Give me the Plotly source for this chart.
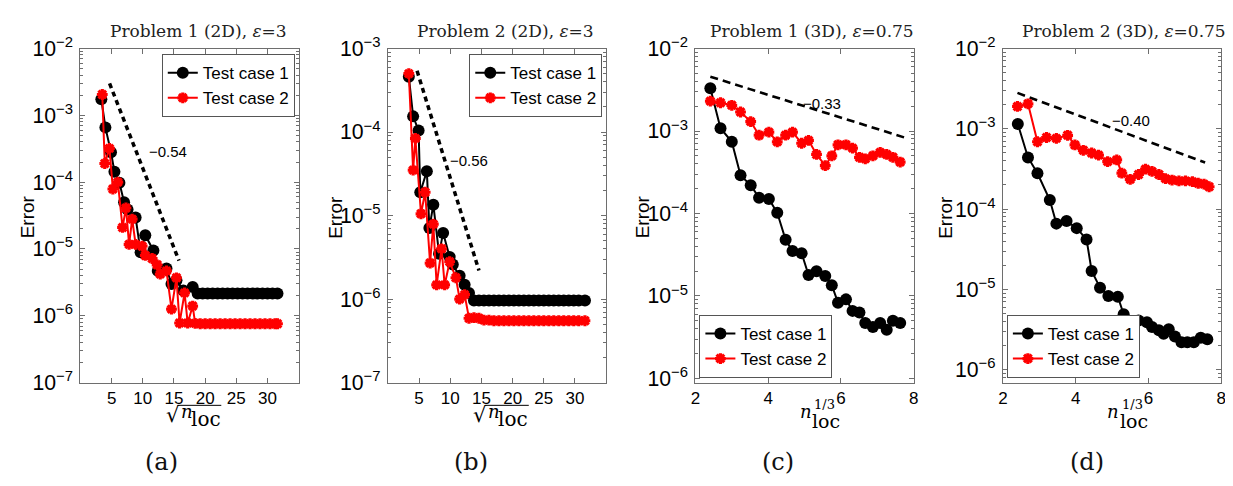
import plotly.graph_objects as go

W, H = 1233, 486

# ---------------- data ----------------
# Panel (a): Problem 1 (2D), eps=3
a_x1 = [3.35, 4.0, 4.9, 5.45, 6.25, 7.0, 7.55, 8.85, 9.65, 10.4, 11.7, 12.4, 13.8, 14.6, 15.4, 16.5, 18.0,
        18.8, 19.6, 20.4, 21.2, 22.0, 22.8, 23.6, 24.4, 25.2, 26.0, 26.8, 27.6, 28.4, 29.2, 30.0, 30.8, 31.6]
a_y1 = [1.74e-3, 6.6e-4, 2.8e-4, 1.43e-4, 9.8e-5, 5.0e-5, 3.9e-5, 2.95e-5, 8.9e-6, 1.6e-5, 9.5e-6, 4.7e-6,
        5.1e-6, 3.0e-6, 3.4e-6, 2.4e-6, 2.7e-6,
        2.15e-6, 2.15e-6, 2.15e-6, 2.15e-6, 2.15e-6, 2.15e-6, 2.15e-6, 2.15e-6, 2.15e-6, 2.15e-6, 2.15e-6,
        2.15e-6, 2.15e-6, 2.15e-6, 2.15e-6, 2.15e-6, 2.15e-6]
a_x2 = [3.5, 3.9, 4.65, 5.2, 6.0, 6.75, 7.3, 7.8, 8.3, 8.85, 9.9, 10.4, 11.5, 12.3, 12.8, 13.8, 14.6, 15.4,
        15.9, 16.7, 17.2, 18.0, 18.4, 19.2, 20.0, 20.8, 21.6, 22.4, 23.2, 24.0, 24.8, 25.6, 26.4, 27.2, 28.0,
        28.8, 29.6, 30.4, 31.2, 31.6]
a_y2 = [2.05e-3, 1.9e-4, 3.2e-4, 7.9e-5, 1.0e-4, 2.1e-5, 4.1e-5, 1.17e-5, 2.8e-5, 1.17e-5, 1.1e-5, 8.0e-6,
        7.2e-6, 5.8e-6, 4.2e-6, 4.7e-6, 1.26e-6, 3.7e-6, 7.8e-7, 2.2e-6, 7.8e-7, 1.4e-6, 7.7e-7,
        7.6e-7, 7.6e-7, 7.6e-7, 7.6e-7, 7.6e-7, 7.6e-7, 7.6e-7, 7.6e-7, 7.6e-7, 7.6e-7, 7.6e-7, 7.6e-7,
        7.6e-7, 7.6e-7, 7.6e-7, 7.6e-7, 7.6e-7]
a_slope_x = [4.67, 15.8]
a_slope_y = [3.0e-3, 6.7e-6]

# Panel (b): Problem 2 (2D), eps=3
b_x1 = [3.35, 4.04, 4.92, 5.19, 6.24, 6.65, 7.28, 8.2, 8.85, 9.9, 10.4, 11.5, 12.3, 13.0, 13.8,
        14.6, 15.4, 16.2, 17.0, 17.8, 18.6, 19.4, 20.2, 21.0, 21.8, 22.6, 23.4, 24.2, 25.0, 25.8, 26.6,
        27.4, 28.2, 29.0, 29.8, 30.6, 31.6]
b_y1 = [4.6e-4, 1.54e-4, 1.04e-4, 1.9e-5, 3.4e-5, 7.1e-6, 1.35e-5, 3.5e-6, 6.2e-6, 3.2e-6, 2.6e-6,
        1.9e-6, 1.48e-6, 1.18e-6, 9.6e-7,
        9.6e-7, 9.6e-7, 9.6e-7, 9.6e-7, 9.6e-7, 9.6e-7, 9.6e-7, 9.6e-7, 9.6e-7, 9.6e-7, 9.6e-7, 9.6e-7,
        9.6e-7, 9.6e-7, 9.6e-7, 9.6e-7, 9.6e-7, 9.6e-7, 9.6e-7, 9.6e-7, 9.6e-7, 9.6e-7]
b_x2 = [3.35, 4.04, 4.4, 5.3, 5.97, 6.76, 7.28, 7.81, 8.6, 9.1, 9.9, 10.9, 11.5, 12.3, 13.0, 13.8, 14.6,
        15.4, 16.2, 17.0, 17.8, 18.6, 19.4, 20.2, 21.0, 21.8, 22.6, 23.4, 24.2, 25.0, 25.8, 26.6, 27.4,
        28.2, 29.0, 29.8, 30.6, 31.6]
b_y2 = [5.0e-4, 3.5e-5, 8.4e-5, 1.05e-5, 1.9e-5, 2.7e-6, 7.9e-6, 1.48e-6, 4.0e-6, 1.48e-6, 2.8e-6, 1.8e-6,
        1.0e-6, 1.13e-6, 5.9e-7, 6.0e-7, 5.9e-7,
        5.6e-7, 5.6e-7, 5.5e-7, 5.5e-7, 5.5e-7, 5.5e-7, 5.5e-7, 5.5e-7, 5.5e-7, 5.5e-7, 5.5e-7, 5.5e-7,
        5.5e-7, 5.5e-7, 5.5e-7, 5.5e-7, 5.5e-7, 5.5e-7, 5.5e-7, 5.5e-7, 5.5e-7]
b_slope_x = [4.67, 14.6]
b_slope_y = [5.4e-4, 2.2e-6]

# Panel (c): Problem 1 (3D), eps=0.75
c_x = [2.41, 2.69, 3.0, 3.24, 3.52, 3.75, 4.02, 4.25, 4.48, 4.67, 4.92, 5.11, 5.33, 5.57, 5.75, 5.92,
       6.14, 6.32, 6.51, 6.67, 6.88, 7.08, 7.26, 7.43, 7.63]
c_y1 = [3.3e-3, 1.08e-3, 7.4e-4, 2.9e-4, 2.2e-4, 1.55e-4, 1.5e-4, 1.02e-4, 4.8e-5, 3.5e-5, 3.3e-5, 1.8e-5,
        2.0e-5, 1.75e-5, 1.35e-5, 8.3e-6, 9.1e-6, 6.6e-6, 6.3e-6, 4.7e-6, 4.2e-6, 4.7e-6, 3.9e-6, 5.0e-6,
        4.7e-6]
c_y2 = [2.3e-3, 2.2e-3, 2.05e-3, 1.7e-3, 1.3e-3, 8.9e-4, 9.7e-4, 7.4e-4, 8.9e-4, 9.7e-4, 7.1e-4, 7.7e-4,
        5.2e-4, 3.8e-4, 5.0e-4, 6.8e-4, 6.8e-4, 6.2e-4, 4.8e-4, 4.6e-4, 5.0e-4, 5.5e-4, 5.2e-4, 4.8e-4,
        4.2e-4]
c_slope_x = [2.41, 7.84]
c_slope_y = [4.55e-3, 8.1e-4]

# Panel (d): Problem 2 (3D), eps=0.75
d_x1 = [2.41, 2.69, 2.95, 3.29, 3.47, 3.75, 4.03, 4.30, 4.44, 4.67, 4.90, 5.16, 5.32, 5.50, 5.73, 5.96,
        6.10, 6.29, 6.42, 6.56, 6.73, 6.91, 7.07, 7.25, 7.44, 7.62]
d_y1 = [1.15e-3, 4.4e-4, 2.8e-4, 1.3e-4, 6.6e-5, 7.1e-5, 5.8e-5, 4.2e-5, 1.7e-5, 1.05e-5, 8.3e-6, 8.1e-6,
        4.9e-6, 3.9e-6, 4.1e-6, 3.9e-6, 3.4e-6, 3.1e-6, 2.8e-6, 3.2e-6, 2.6e-6, 2.2e-6, 2.2e-6, 2.2e-6,
        2.5e-6, 2.4e-6]
d_x2 = [2.40, 2.69, 2.95, 3.20, 3.47, 3.78, 3.98, 4.21, 4.44, 4.63, 4.88, 5.13, 5.27, 5.50, 5.73, 5.92,
        6.10, 6.29, 6.47, 6.65, 6.84, 7.02, 7.21, 7.37, 7.53, 7.67]
d_y2 = [1.9e-3, 2.05e-3, 6.9e-4, 7.8e-4, 7.6e-4, 8.3e-4, 6.3e-4, 5.4e-4, 5.0e-4, 4.7e-4, 3.9e-4, 4.1e-4,
        2.8e-4, 2.35e-4, 2.7e-4, 3.15e-4, 2.95e-4, 2.7e-4, 2.4e-4, 2.3e-4, 2.25e-4, 2.25e-4, 2.2e-4, 2.1e-4,
        2.05e-4, 1.9e-4]
d_slope_x = [2.40, 7.56]
d_slope_y = [2.8e-3, 3.8e-4]

titles = ["Problem 1 (2D), <i>ε</i>=3", "Problem 2 (2D), <i>ε</i>=3",
          "Problem 1 (3D), <i>ε</i>=0.75", "Problem 2 (3D), <i>ε</i>=0.75"]
slope_labels = ["−0.54", "−0.56", "−0.33", "−0.40"]
series_names = ["Test case 1", "Test case 2"]
panel_tags = ["(a)", "(b)", "(c)", "(d)"]

# ---------------- layout helpers ----------------
def px(x):
    return x / W

def py(y):
    return 1 - y / H

boxes = [(68, 288), (378, 598), (688, 908), (998, 1218)]
y_top, y_bot = 28, 381
yranges = [[-7, -2], [-7, -3], [-6.05, -2], [-6.16, -2]]
xranges = [[0, 35], [0, 35], [2, 8], [2, 8]]
xticks = [[5, 10, 15, 20, 25, 30], [5, 10, 15, 20, 25, 30], [2, 4, 6, 8], [2, 4, 6, 8]]

data = [
    (a_x1, a_y1, a_x2, a_y2, a_slope_x, a_slope_y),
    (b_x1, b_y1, b_x2, b_y2, b_slope_x, b_slope_y),
    (c_x, c_y1, c_x, c_y2, c_slope_x, c_slope_y),
    (d_x1, d_y1, d_x2, d_y2, d_slope_x, d_slope_y),
]

FONT = "Liberation Sans, Arial, sans-serif"
SERIF = "DejaVu Serif, serif"
AX = "#6e6e6e"

fig = go.Figure()
legend_names = ["legend", "legend2", "legend3", "legend4"]

for i, (x1, y1, x2, y2, sx, sy) in enumerate(data):
    sfx = "" if i == 0 else str(i + 1)
    xa, ya = "x" + sfx, "y" + sfx
    thick = i < 2
    fig.add_trace(go.Scatter(
        x=sx, y=sy, mode="lines", xaxis=xa, yaxis=ya, showlegend=False,
        line=dict(color="black", width=3.5 if thick else 2.6,
                  dash="5px,4px" if thick else "8px,5px")))
    fig.add_trace(go.Scatter(
        x=x1, y=y1, mode="lines+markers", name=series_names[0], xaxis=xa, yaxis=ya,
        legend=legend_names[i],
        line=dict(color="black", width=2),
        marker=dict(symbol="circle", size=12, color="black")))
    fig.add_trace(go.Scatter(
        x=x2, y=y2, mode="lines+markers", name=series_names[1], xaxis=xa, yaxis=ya,
        legend=legend_names[i],
        line=dict(color="#ff0000", width=2),
        marker=dict(symbol="asterisk-open", size=9, color="#ff0000",
                    line=dict(color="#ff0000", width=3.2))))

layout = dict(
    width=W, height=H, margin=dict(l=0, r=0, t=0, b=0),
    paper_bgcolor="white", plot_bgcolor="white",
    font=dict(family=FONT, size=17, color="black"),
)

for i in range(4):
    sfx = "" if i == 0 else str(i + 1)
    l, r = boxes[i]
    layout["xaxis" + sfx] = dict(
        domain=[px(l), px(r)], anchor="y" + sfx, range=xranges[i],
        tickvals=xticks[i], ticks="inside", ticklen=5, tickcolor=AX,
        showline=True, linecolor=AX, linewidth=1, mirror="allticks",
        showgrid=False, zeroline=False, tickfont=dict(family=FONT, size=17))
    layout["yaxis" + sfx] = dict(
        domain=[py(y_bot), py(y_top)], anchor="x" + sfx, type="log", range=yranges[i],
        dtick=1, exponentformat="power", showexponent="all",
        ticks="inside", ticklen=5, tickcolor=AX,
        minor=dict(ticks="inside", ticklen=3, tickcolor=AX, showgrid=False),
        showline=True, linecolor=AX, linewidth=1, mirror="allticks",
        showgrid=False, zeroline=False, tickfont=dict(family=FONT, size=17),
        ticklabelstandoff=3)

leg_common = dict(bgcolor="white", bordercolor="#555555", borderwidth=1,
                  font=dict(family=FONT, size=17), tracegroupgap=0,
                  itemwidth=30, traceorder="normal")
layout["legend"] = dict(x=px(150), y=py(34), xanchor="left", yanchor="top", **leg_common)
layout["legend2"] = dict(x=px(460), y=py(34), xanchor="left", yanchor="top", **leg_common)
layout["legend3"] = dict(x=px(692), y=py(376), xanchor="left", yanchor="bottom", **leg_common)
layout["legend4"] = dict(x=px(1002), y=py(376), xanchor="left", yanchor="bottom", **leg_common)

fig.update_layout(**layout)

ann = []
title_cx = [187, 497, 806, 1120]
for i in range(4):
    ann.append(dict(x=px(title_cx[i]), y=py(10), xref="paper", yref="paper", text=titles[i],
                    showarrow=False, font=dict(family=SERIF, size=17, color="#222"),
                    xanchor="center", yanchor="middle"))
err_x = [15.5, 325.5, 635.5, 940.5]
for i in range(4):
    ann.append(dict(x=px(err_x[i]), y=py(206), xref="paper", yref="paper", text="Error",
                    showarrow=False, textangle=-90, font=dict(family=FONT, size=19),
                    xanchor="center", yanchor="middle"))
slope_pos = [(156, 137), (460, 146), (816, 86), (1127, 104)]
for i in range(4):
    ann.append(dict(x=px(slope_pos[i][0]), y=py(slope_pos[i][1]), xref="paper", yref="paper",
                    text=slope_labels[i], showarrow=False, font=dict(family=FONT, size=15),
                    xanchor="center", yanchor="middle"))
tag_x = [150, 462, 771, 1083]
for i in range(4):
    ann.append(dict(x=px(tag_x[i]), y=py(465), xref="paper", yref="paper", text=panel_tags[i],
                    showarrow=False, font=dict(family=SERIF, size=24, color="#111"),
                    xanchor="center", yanchor="middle"))

# x-axis labels: sqrt(n_loc) for (a),(b)
shapes = []
for off in [0, 310]:
    ann.append(dict(x=px(161 + off), y=py(415), xref="paper", yref="paper", text="√",
                    showarrow=False, font=dict(family=SERIF, size=21),
                    xanchor="center", yanchor="middle"))
    ann.append(dict(x=px(167 + off), y=py(412), xref="paper", yref="paper", text="<i>n</i>",
                    showarrow=False, font=dict(family=SERIF, size=18),
                    xanchor="left", yanchor="middle"))
    ann.append(dict(x=px(177 + off), y=py(419), xref="paper", yref="paper", text="loc",
                    showarrow=False, font=dict(family=SERIF, size=20),
                    xanchor="left", yanchor="middle"))
    shapes.append(dict(type="line", xref="paper", yref="paper",
                       x0=px(166 + off), x1=px(210 + off), y0=py(405), y1=py(405),
                       line=dict(color="black", width=1)))
# x-axis labels: n_loc^(1/3) for (c),(d)
for off in [0, 310]:
    ann.append(dict(x=px(791 + off), y=py(411), xref="paper", yref="paper", text="<i>n</i>",
                    showarrow=False, font=dict(family=SERIF, size=18),
                    xanchor="left", yanchor="middle"))
    ann.append(dict(x=px(806 + off), y=py(404), xref="paper", yref="paper", text="1/3",
                    showarrow=False, font=dict(family=SERIF, size=13),
                    xanchor="left", yanchor="middle"))
    ann.append(dict(x=px(804 + off), y=py(422), xref="paper", yref="paper", text="loc",
                    showarrow=False, font=dict(family=SERIF, size=19),
                    xanchor="left", yanchor="middle"))
fig.update_layout(annotations=ann, shapes=shapes)

fig.write_html("out.html")
